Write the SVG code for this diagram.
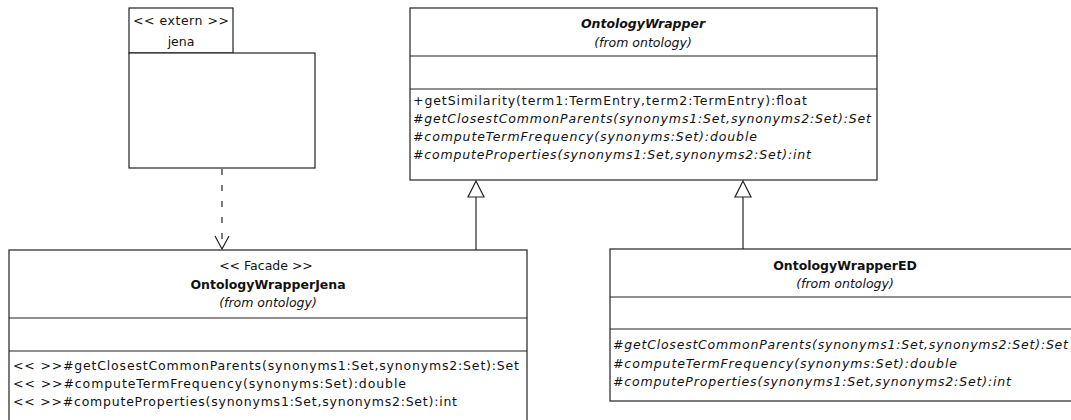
<svg xmlns="http://www.w3.org/2000/svg" width="1071" height="420" viewBox="0 0 1071 420">
<defs>
<style>
.box{fill:#fff;stroke:#222;stroke-width:1.2}
.ln{stroke:#222;stroke-width:1.2;fill:none}
text{font-family:"DejaVu Sans","Liberation Sans",sans-serif;font-size:12.5px;fill:#111}
.c{text-anchor:middle}
.b{font-weight:bold}
.i{font-style:italic}
.dash{stroke:#222;stroke-width:1.2;fill:none;stroke-dasharray:6 10}
.tri{fill:#fff;stroke:#222;stroke-width:1.2}
</style>
</defs>
<rect width="1071" height="420" fill="#fff"/>

<g id="jena">
<rect class="box" x="129" y="8" width="104" height="45"/>
<rect class="box" x="129" y="53" width="186" height="115"/>
<text x="133" y="25" textLength="96" lengthAdjust="spacing">&lt;&lt; extern &gt;&gt;</text>
<text class="c" x="181" y="46">jena</text>
</g>

<g id="OntologyWrapper">
<rect class="box" x="410" y="8" width="467" height="172"/>
<line class="ln" x1="410" y1="56" x2="877" y2="56"/>
<line class="ln" x1="410" y1="89" x2="877" y2="89"/>
<text class="c b i" x="643" y="28">OntologyWrapper</text>
<text class="c i" x="643" y="47">(from ontology)</text>
<text x="413" y="105" textLength="394" lengthAdjust="spacing">+getSimilarity(term1:TermEntry,term2:TermEntry):float</text>
<text class="i" x="413" y="123" textLength="458" lengthAdjust="spacing">#getClosestCommonParents(synonyms1:Set,synonyms2:Set):Set</text>
<text class="i" x="413" y="141" textLength="344" lengthAdjust="spacing">#computeTermFrequency(synonyms:Set):double</text>
<text class="i" x="413" y="159" textLength="398" lengthAdjust="spacing">#computeProperties(synonyms1:Set,synonyms2:Set):int</text>
</g>

<g id="OntologyWrapperJena">
<rect class="box" x="9" y="250" width="518" height="190"/>
<line class="ln" x1="9" y1="318" x2="527" y2="318"/>
<line class="ln" x1="9" y1="351" x2="527" y2="351"/>
<text class="c" x="266" y="270">&lt;&lt; Facade &gt;&gt;</text>
<text class="c b" x="268" y="289">OntologyWrapperJena</text>
<text class="c i" x="268" y="307">(from ontology)</text>
<text x="13" y="370" textLength="506" lengthAdjust="spacing">&lt;&lt; &gt;&gt;#getClosestCommonParents(synonyms1:Set,synonyms2:Set):Set</text>
<text x="13" y="388" textLength="393" lengthAdjust="spacing">&lt;&lt; &gt;&gt;#computeTermFrequency(synonyms:Set):double</text>
<text x="13" y="406" textLength="444" lengthAdjust="spacing">&lt;&lt; &gt;&gt;#computeProperties(synonyms1:Set,synonyms2:Set):int</text>
</g>

<g id="OntologyWrapperED">
<rect class="box" x="610" y="249" width="470" height="152"/>
<line class="ln" x1="610" y1="297" x2="1080" y2="297"/>
<line class="ln" x1="610" y1="329" x2="1080" y2="329"/>
<text class="c b" x="845" y="270">OntologyWrapperED</text>
<text class="c i" x="845" y="288">(from ontology)</text>
<text class="i" x="613" y="349" textLength="455" lengthAdjust="spacing">#getClosestCommonParents(synonyms1:Set,synonyms2:Set):Set</text>
<text class="i" x="613" y="368" textLength="344" lengthAdjust="spacing">#computeTermFrequency(synonyms:Set):double</text>
<text class="i" x="613" y="386" textLength="398" lengthAdjust="spacing">#computeProperties(synonyms1:Set,synonyms2:Set):int</text>
</g>

<g id="connectors">
<line class="dash" x1="222" y1="169" x2="222" y2="249"/>
<polyline class="ln" points="215,236 222,249 229,236"/>
<line class="ln" x1="476" y1="197" x2="476" y2="250"/>
<polygon class="tri" points="476,181 468,197 484,197"/>
<line class="ln" x1="743" y1="197" x2="743" y2="249"/>
<polygon class="tri" points="743,181 735,197 751,197"/>
</g>
</svg>
